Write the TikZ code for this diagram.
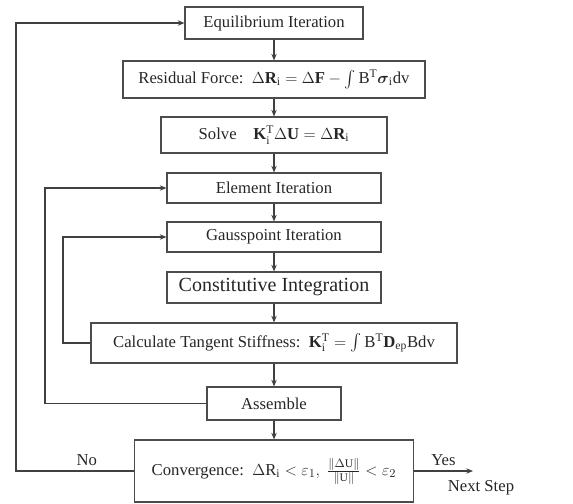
\documentclass[tikz,border=0pt]{standalone}
\usepackage{fontspec}
\setmainfont{Liberation Serif}
\usepackage{amsmath,amssymb}
\usetikzlibrary{arrows.meta}

\begin{document}
\begin{tikzpicture}[x=0.75pt,y=-0.75pt,
  stepbox/.style={draw=black!70,line width=0.8pt,inner sep=0pt,text=black!85,
    font=\fontsize{12.5}{14}\selectfont},
  flow/.style={draw=black!75,line width=0.8pt,-{Stealth[length=5pt,width=4pt]}},
  lbl/.style={text=black!85,font=\fontsize{12.5}{14}\selectfont}]
\useasboundingbox (0,0) rectangle (573,503);

%main column
\node[stepbox,minimum width=133.5pt,minimum height=24pt] (equil) at (274,23) {Equilibrium Iteration};
\node[stepbox,minimum width=226.5pt,minimum height=27.75pt] (resid) at (274,79.5)
  {Residual Force:\ \ $\Delta\mathbf{R}_\mathrm{i}=\Delta\mathbf{F}-\int\mathrm{B}^\mathrm{T}\boldsymbol{\sigma}_\mathrm{i}\mathrm{dv}$};
\node[stepbox,minimum width=169.5pt,minimum height=27pt] (solve) at (274,135)
  {Solve\quad $\mathbf{K}_\mathrm{i}^\mathrm{T}\Delta\mathbf{U}=\Delta\mathbf{R}_\mathrm{i}$};
\node[stepbox,minimum width=160.5pt,minimum height=22.5pt] (elem) at (274,188) {Element Iteration};
\node[stepbox,minimum width=160.5pt,minimum height=22.5pt] (gauss) at (274,237) {Gausspoint Iteration};
\node[stepbox,minimum width=160.5pt,minimum height=23.25pt,font=\fontsize{15}{17}\selectfont] (const) at (274,287.5) {Constitutive Integration};
\node[stepbox,minimum width=274.5pt,minimum height=30pt] (tang) at (274,343)
  {Calculate Tangent Stiffness:\ \ $\mathbf{K}_\mathrm{i}^\mathrm{T}=\int\mathrm{B}^\mathrm{T}\mathbf{D}_\mathrm{ep}\mathrm{Bdv}$};
\node[stepbox,minimum width=100.5pt,minimum height=24.75pt] (assem) at (274,403.5) {Assemble};
\node[stepbox,minimum width=209pt,minimum height=46.5pt] (conv) at (274,471)
  {Convergence:\ \ $\Delta\mathrm{R}_\mathrm{i}<\varepsilon_1,\ \tfrac{\|\Delta\mathrm{U}\|}{\|\mathrm{U}\|}<\varepsilon_2$};

\draw[flow] (equil) -- (resid);
\draw[flow] (resid) -- (solve);
\draw[flow] (solve) -- (elem);
\draw[flow] (elem) -- (gauss);
\draw[flow] (gauss) -- (const);
\draw[flow] (const) -- (tang);
\draw[flow] (tang) -- (assem);
\draw[flow] (assem) -- (conv);

%loops
\coordinate (outer) at (16,0);
\coordinate (middle) at (45,0);
\coordinate (inner) at (63,0);
\draw[flow] (conv.west) -- node[lbl,above,pos=0.4]{No} (conv.west -| outer) |- (equil.west);
\draw[flow] (assem.west) -- (assem.west -| middle) |- (elem.west);
\draw[flow] (tang.west) -- (tang.west -| inner) |- (gauss.west);

%exit
\coordinate (next) at (473,471);
\draw[flow] (conv.east) -- node[lbl,above]{Yes} (next);
\node[lbl] (nextlbl) at (481,488) {Next Step};
\end{tikzpicture}
\end{document}
